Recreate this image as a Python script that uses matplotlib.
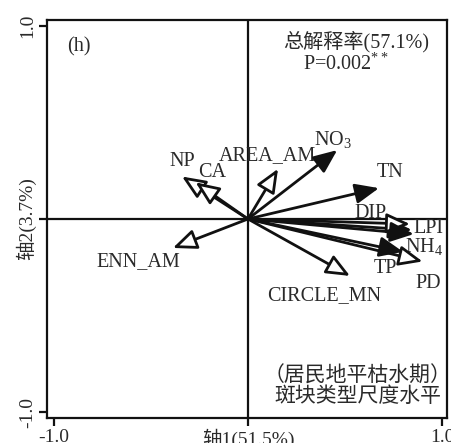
import matplotlib
matplotlib.use("Agg")
import matplotlib.pyplot as plt

plt.rcParams['font.family'] = ['Liberation Serif', 'Noto Sans CJK SC']
plt.rcParams['mathtext.fontset'] = 'custom'
plt.rcParams['mathtext.rm'] = 'Liberation Serif'
plt.rcParams['mathtext.it'] = 'Liberation Serif:italic'

# RDA loadings: (name, axis1, axis2, filled head = environmental variable)
names = ['NP', 'CA', 'AREA_AM', 'NO$_3$', 'TN', 'DIP', 'LPI', 'NH$_4$', 'TP', 'PD', 'CIRCLE_MN', 'ENN_AM']
axis1 = [-0.34, -0.27, 0.155, 0.46, 0.675, 0.845, 0.835, 0.855, 0.80, 0.90, 0.526, -0.387]
axis2 = [0.22, 0.19, 0.26, 0.357, 0.16, -0.057, -0.026, -0.078, -0.17, -0.22, -0.295, -0.15]
filled = [False, False, False, True, True, True, False, True, True, False, False, False]
# label anchor positions (data units)
label_x = [-0.34, -0.185, 0.10, 0.44, 0.73, 0.63, 0.93, 0.91, 0.71, 0.93, 0.395, -0.565]
label_y = [0.30, 0.24, 0.33, 0.41, 0.24, 0.03, -0.05, -0.14, -0.255, -0.335, -0.395, -0.22]

xticks = [-1.0, 0.0, 1.0]
xticklabels = ['-1.0', '轴1(51.5%)', '1.0']
yticks = [-1.0, 0.0, 1.0]
yticklabels = ['-1.0', '轴2(3.7%)', '1.0']

fig = plt.figure(figsize=(4.52, 4.43), dpi=100)
ax = fig.add_axes([47 / 452, 25 / 443, 400 / 452, 398 / 443])
ax.set_xlim(-1.036, 1.026)
ax.set_ylim(-1.031, 1.031)

for s in ax.spines.values():
    s.set_linewidth(1.6)
    s.set_color('#111111')

ax.axhline(0, color='#111111', lw=1.6, zorder=1)
ax.axvline(0, color='#111111', lw=1.6, zorder=1)

ax.set_xticks(xticks)
ax.set_xticklabels(xticklabels)
ax.set_yticks(yticks)
ax.set_yticklabels(yticklabels, rotation=90, va='center')
ax.tick_params(axis='both', length=6, width=1.6, labelsize=14, colors='#111111',
               labelcolor='#2a2a2a', pad=2)

text_kw = dict(fontsize=14.5, color='#2a2a2a', ha='center', va='center')

for n, x, y, f, lx, ly in zip(names, axis1, axis2, filled, label_x, label_y):
    ax.annotate('', xy=(x, y), xytext=(0, 0),
                arrowprops=dict(arrowstyle='-|>,head_length=0.8,head_width=0.34',
                                lw=2.0, color='#111111',
                                fc='#111111' if f else 'white', ec='#111111',
                                shrinkA=0, shrinkB=0, mutation_scale=18),
                zorder=3)
    ax.text(lx, ly, n, **text_kw)

ax.text(-0.87, 0.89, '(h)', fontsize=14.5, color='#2a2a2a', ha='center', va='center')
ax.text(0.555, 0.92, '总解释率(57.1%)', fontsize=14.5, color='#2a2a2a', ha='center', va='center')
ax.text(0.505, 0.80, 'P=0.002$^{**}$', fontsize=14.5, color='#2a2a2a', ha='center', va='center')
ax.text(0.565, -0.815, '（居民地平枯水期）', fontsize=15, color='#2a2a2a', ha='center', va='center')
ax.text(0.565, -0.925, '斑块类型尺度水平', fontsize=15, color='#2a2a2a', ha='center', va='center')

fig.savefig('out.png', dpi=100)
